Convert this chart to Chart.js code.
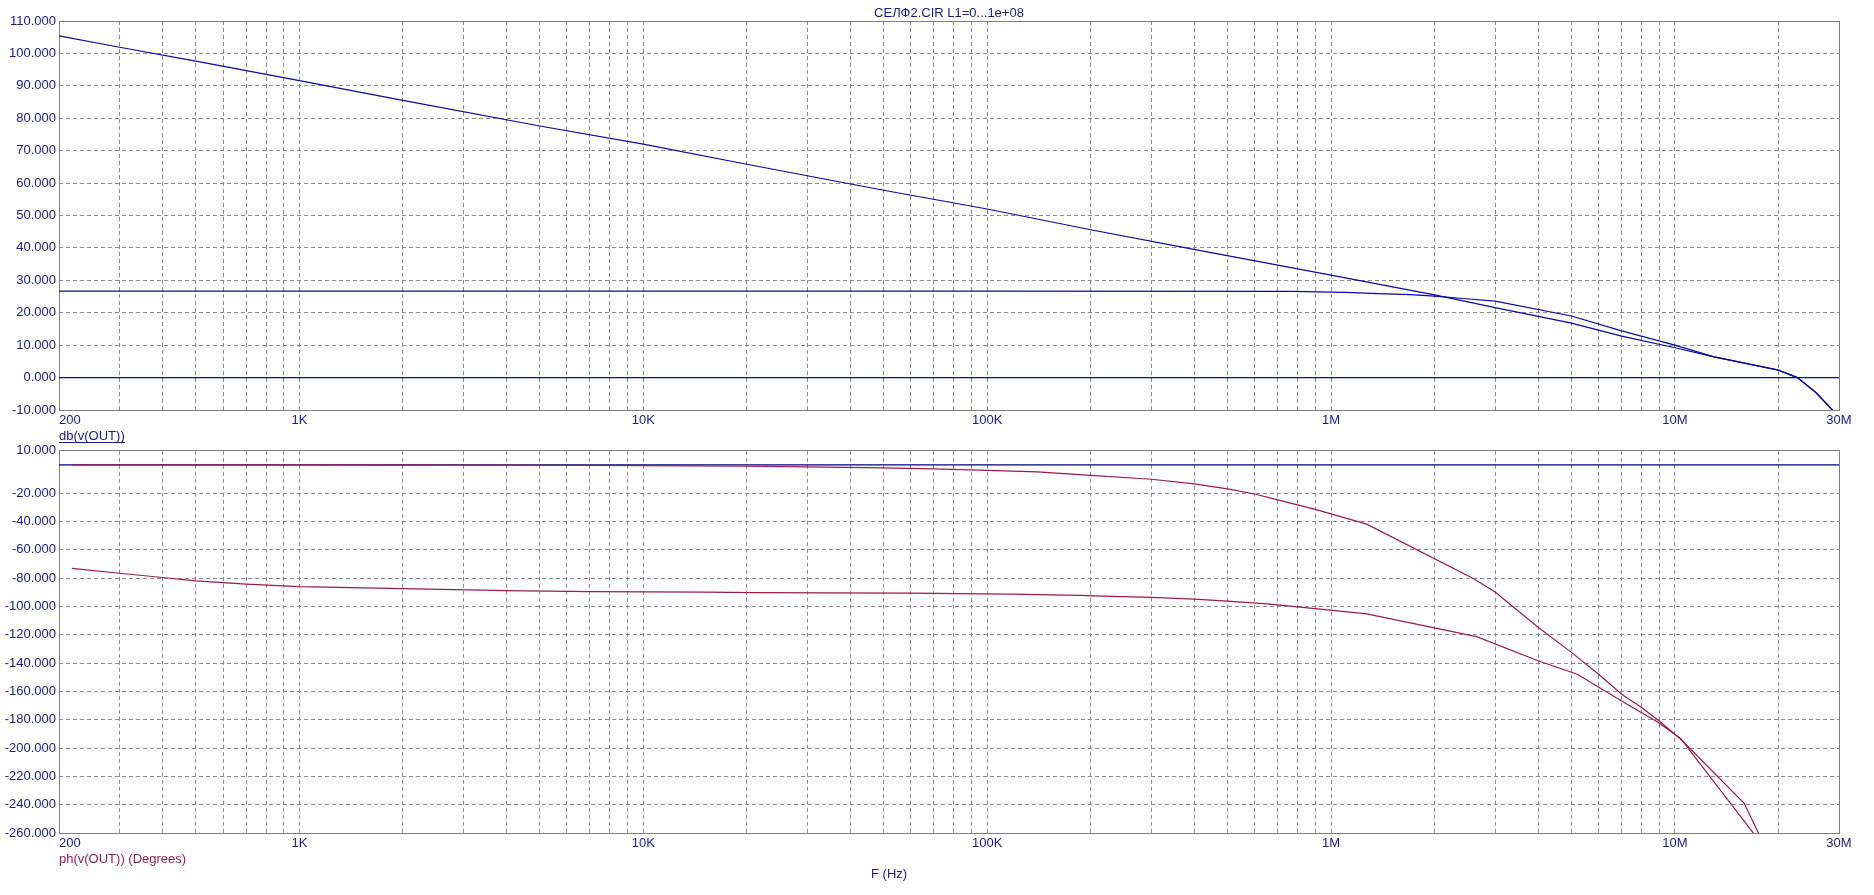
<!DOCTYPE html>
<html>
<head>
<meta charset="utf-8">
<title>СЕЛФ2.CIR</title>
<script src="https://cdn.jsdelivr.net/npm/chart.js@4.4.1/dist/chart.umd.min.js"></script>
<style>
  body { margin: 0; background: #fff; }
  canvas { position: absolute; left: 0; }
  #magChart { top: 0; }
  #phaseChart { top: 440px; }
</style>
</head>
<body>
<canvas id="magChart" width="1874" height="450"></canvas>
<canvas id="phaseChart" width="1874" height="455"></canvas>
<script>
const TITLE = 'СЕЛФ2.CIR L1=0...1e+08';

// x axis: labelled frequencies
const xLabelFreqs = [200, 1e3, 1e4, 1e5, 1e6, 1e7, 3e7];
const xLabelTexts = ['200', '1K', '10K', '100K', '1M', '10M', '30M'];

// y ticks
const magTicks = [-10, 0, 10, 20, 30, 40, 50, 60, 70, 80, 90, 100, 110];
const phaseTicks = [-260, -240, -220, -200, -180, -160, -140, -120, -100, -80, -60, -40, -20, 10];

// db(v(OUT)) - three curves
const magFreq1 = [200, 300, 500, 1e3, 2e3, 5e3, 1e4, 2e4, 5e4, 1e5, 2e5, 4.1e5, 1e6, 2e6, 3e6, 5e6, 7e6, 1e7, 1.3e7, 2e7, 2.27e7, 2.57e7, 2.87e7, 3e7];
const magDb1 = [105.4, 101.9, 97.6, 91.6, 85.5, 77.6, 72.0, 65.8, 57.8, 52.0, 45.6, 39.3, 31.6, 25.5, 21.6, 16.8, 12.8, 9.2, 6.4, 2.3, 0, -4.6, -10, -12.5];
const magFreq2 = [200, 1e3, 1e4, 1e5, 7.7e5, 1.1e6, 1.37e6, 1.7e6, 2e6, 2.42e6, 3e6, 5e6, 7e6, 1e7, 1.3e7, 2e7, 2.27e7, 2.57e7, 2.87e7, 3e7];
const magDb2 = [26.7, 26.7, 26.7, 26.7, 26.6, 26.3, 25.9, 25.6, 25.1, 24.4, 23.6, 19.0, 14.4, 10.0, 6.4, 2.3, 0, -4.6, -10, -12.5];
const magFreq3 = [200, 3e7];
const magDb3 = [0, 0];

// ph(v(OUT)) (Degrees)
const phFreq0 = [200, 3e7];
const phDeg0 = [0, 0];
const phFreq1 = [218, 1e3, 5e3, 1e4, 2e4, 3e4, 5e4, 7e4, 1e5, 1.4e5, 2e5, 3e5, 4e5, 5e5, 6e5, 7e5, 9e5, 1.27e6, 2.6e6, 3e6, 4e6, 5e6, 6e6, 7e6, 8e6, 9e6, 1.04e7, 1.59e7, 2.08e7];
const phDeg1 = [0, 0, -0.2, -0.5, -0.9, -1.3, -2.1, -2.8, -3.8, -4.9, -7.3, -10.1, -13.4, -16.9, -20.5, -24.7, -31.4, -41.8, -80.4, -89.8, -114.7, -132.4, -147.8, -162, -171.4, -180.9, -193.8, -239, -298];
const phFreq2 = [218, 300, 400, 500, 700, 1e3, 2e3, 4e3, 7e3, 1.5e4, 2.1e4, 5.9e4, 1.17e5, 1.85e5, 2.3e5, 3e5, 4e5, 5e5, 6.5e5, 9e5, 1.27e6, 2.65e6, 4e6, 5.2e6, 7e6, 8.95e6, 1.04e7, 2.08e7];
const phDeg2 = [-73.0, -76.5, -79.5, -81.9, -84.2, -86.0, -87.4, -88.8, -89.5, -89.8, -90.2, -90.6, -91.3, -92.2, -92.9, -93.6, -94.8, -96.2, -98.1, -101.5, -105.2, -121.3, -138.3, -147.8, -166.7, -182, -193.4, -288.5];

const INK = '#1a1a8c';
const BLUE = '#0a0a9e';
const WINE = '#9a1c4c';
const GRID = '#8c8c8c';
const FONT = { family: "'Liberation Sans', Arial, sans-serif", size: 13 };

function pts(xs, ys) {
  return xs.map((x, i) => ({ x: x, y: ys[i] }));
}

// grid lines at 2..9 x 10^n between 200 and 30M
function gridFreqs() {
  const out = [];
  for (let d = 100; d <= 1e7; d *= 10) {
    for (let m = 1; m <= 9; m++) {
      const f = m * d;
      if (f >= 200 && f <= 3e7) out.push(f);
    }
  }
  return out;
}

function freqLabel(v) {
  const i = xLabelFreqs.indexOf(v);
  if (i < 0) return '';
  // first label sits to the right of its tick
  return i === 0 ? '      ' + xLabelTexts[i] : xLabelTexts[i];
}

function align(p) {
  return Math.round(p - 0.5) + 0.5;
}

// frame round the plot + free texts
const frameAndText = {
  id: 'frameAndText',
  beforeDatasetsDraw(chart) {
    const a = chart.chartArea, ctx = chart.ctx;
    const l = align(a.left), r = align(a.right), t = align(a.top), b = align(a.bottom);
    ctx.save();
    ctx.strokeStyle = '#808080';
    ctx.lineWidth = 1;
    ctx.setLineDash([]);
    ctx.strokeRect(l, t, r - l, b - t);
    ctx.restore();
  },
  afterDraw(chart, args, opts) {
    const a = chart.chartArea, ctx = chart.ctx;
    ctx.save();
    ctx.font = FONT.size + 'px ' + FONT.family;
    ctx.textBaseline = 'middle';
    (opts.labels || []).forEach(lb => {
      const x = lb.at === 'center' ? (a.left + a.right) / 2 : a.left + lb.dx;
      const y = lb.from === 'top' ? a.top + lb.dy : a.bottom + lb.dy;
      ctx.fillStyle = lb.color;
      ctx.textAlign = lb.at === 'center' ? 'center' : 'left';
      ctx.fillText(lb.text, x, y);
      if (lb.underline) {
        const w = ctx.measureText(lb.text).width;
        ctx.fillRect(Math.round(x), Math.round(y + 6), Math.round(w), 1);
      }
    });
    ctx.restore();
  }
};

function xAxis() {
  return {
    type: 'logarithmic',
    min: 200,
    max: 3e7,
    afterBuildTicks: s => { s.ticks = gridFreqs().map(v => ({ value: v })); },
    afterFit: s => { s.height = 20; },
    ticks: { callback: freqLabel, autoSkip: false, maxRotation: 0, minRotation: 0, color: INK, font: FONT, padding: 3 },
    grid: { color: GRID, lineWidth: 1, drawTicks: false },
    border: { display: false, dash: [4, 3] }
  };
}

function yAxis(min, max, list) {
  return {
    min: min,
    max: max,
    afterBuildTicks: s => { s.ticks = list.map(v => ({ value: v })); },
    afterFit: s => { s.width = 59; },
    ticks: { callback: v => v.toFixed(3), autoSkip: false, color: INK, font: FONT, padding: 3 },
    grid: { color: GRID, lineWidth: 1, drawTicks: false },
    border: { display: false, dash: [4, 3] }
  };
}

function line(data, color, order) {
  return { data: data, borderColor: color, borderWidth: 1.2, pointRadius: 0, tension: 0, fill: false, order: order };
}

var magChart = new Chart(document.getElementById('magChart').getContext('2d'), {
  type: 'line',
  data: {
    datasets: [
      line(pts(magFreq1, magDb1), BLUE, 0),
      line(pts(magFreq2, magDb2), BLUE, 1),
      line(pts(magFreq3, magDb3), BLUE, 2),
    ],
  },
  options: {
    responsive: false,
    animation: false,
    events: [],
    layout: { padding: { top: 21, right: 35, bottom: 20, left: 0 } },
    scales: { x: xAxis(), y: yAxis(-10, 110, magTicks) },
    plugins: {
      legend: { display: false },
      tooltip: { enabled: false },
      frameAndText: {
        labels: [
          { text: TITLE, at: 'center', from: 'top', dy: -8, color: INK },
          { text: 'db(v(OUT))', dx: 0, from: 'bottom', dy: 26, color: INK, underline: true },
        ],
      },
    },
  },
  plugins: [frameAndText],
});

var phaseChart = new Chart(document.getElementById('phaseChart').getContext('2d'), {
  type: 'line',
  data: {
    datasets: [
      line(pts(phFreq1, phDeg1), WINE, 0),
      line(pts(phFreq2, phDeg2), WINE, 1),
      line(pts(phFreq0, phDeg0), '#000080', 2),
    ],
  },
  options: {
    responsive: false,
    animation: false,
    events: [],
    layout: { padding: { top: 10, right: 35, bottom: 42, left: 0 } },
    scales: { x: xAxis(), y: yAxis(-260, 10, phaseTicks) },
    plugins: {
      legend: { display: false },
      tooltip: { enabled: false },
      frameAndText: {
        labels: [
          { text: 'ph(v(OUT)) (Degrees)', dx: 0, from: 'bottom', dy: 26, color: WINE },
          { text: 'F (Hz)', dx: 812, from: 'bottom', dy: 41, color: INK },
        ],
      },
    },
  },
  plugins: [frameAndText],
});
</script>
</body>
</html>
